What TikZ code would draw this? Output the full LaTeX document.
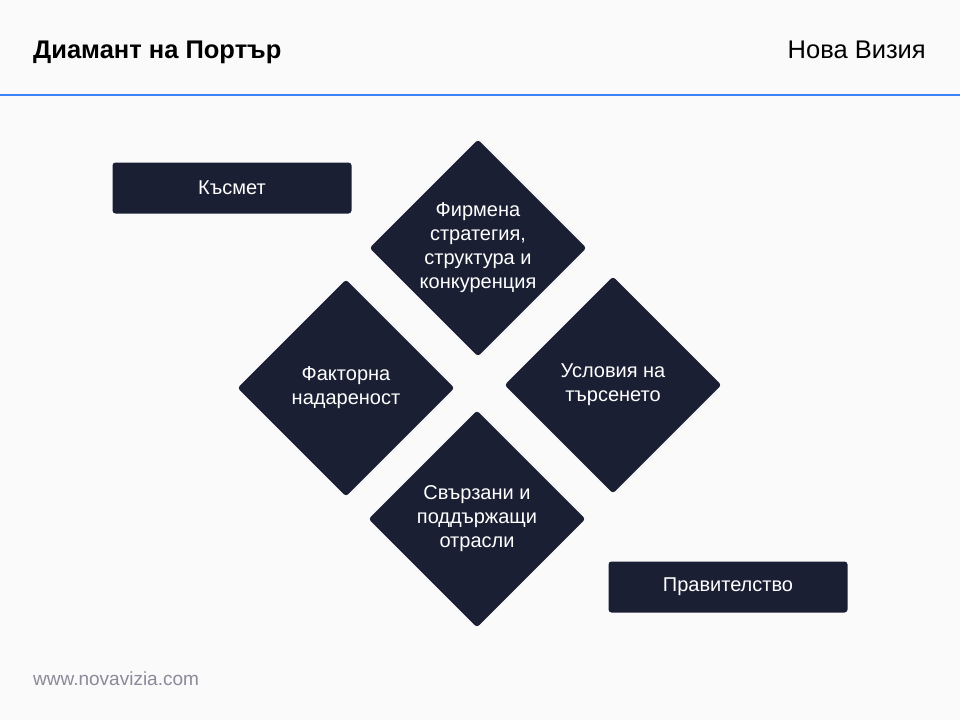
\documentclass[tikz,border=0pt]{standalone}
\usepackage{fontspec}
\setmainfont{Liberation Sans}
\usetikzlibrary{shapes.geometric, positioning}
\definecolor{diamondnavy}{HTML}{1B1F33}
\definecolor{pagebg}{HTML}{FAFAFA}
\definecolor{ruleblue}{HTML}{3B82F6}
\definecolor{footgray}{HTML}{8A8A9A}

\begin{document}
\begin{tikzpicture}[
        x=1pt, y=-1pt,
        diam/.style={diamond, fill=diamondnavy, minimum width=217pt, minimum height=217pt,
            inner sep=0pt, rounded corners=3pt, text=white, align=center,
            font=\fontsize{20}{24}\selectfont},
        box/.style={rectangle, fill=diamondnavy, minimum width=239pt, minimum height=51pt,
            rounded corners=3pt, text=white, font=\fontsize{20}{24}\selectfont},
        heading/.style={inner sep=0pt, font=\fontsize{25.5}{30}\selectfont}
    ]
        \fill[pagebg] (0,0) rectangle (960,720);
        \useasboundingbox (0,0) rectangle (960,720);

        % header
        \node[heading, anchor=base west, font=\bfseries\fontsize{25.5}{30}\selectfont] (title) at (33,58) {Диамант на Портър};
        \node[heading, anchor=base east] (brand) at (926,58) {Нова Визия};
        \coordinate (ruleL) at (0,95);
        \coordinate (ruleR) at (960,95);
        \draw[ruleblue, line width=2pt] (ruleL) -- (ruleR);

        % the four determinants
        \node[diam] (strategy) at (478,248) {Фирмена\\стратегия,\\структура и\\конкуренция};
        \node[diam] (factor) at (346,388) {Факторна\\надареност};
        \node[diam] (demand) at (613,385) {Условия на\\търсенето};
        \node[diam] (related) at (477,519) {Свързани и\\поддържащи\\отрасли};

        % external forces
        \node[box] (chance) at (232,188) {Късмет};
        \node[box] (govt) at (728,587) {Правителство};

        % footer
        \node[inner sep=0pt, anchor=base west, text=footgray, font=\fontsize{19}{22}\selectfont] (site) at (33,685) {www.novavizia.com};
    \end{tikzpicture}
\end{document}
